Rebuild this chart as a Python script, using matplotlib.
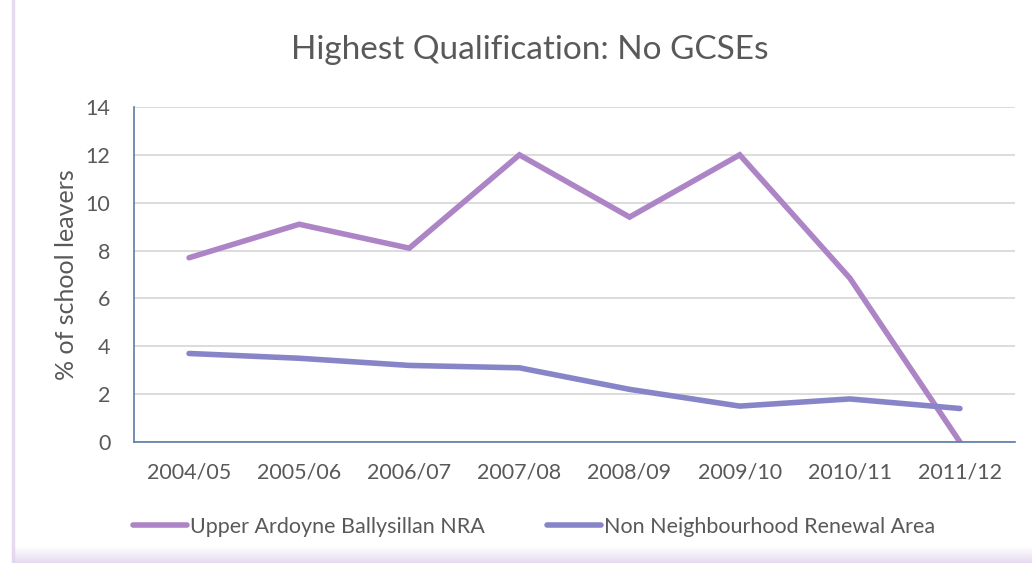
import numpy as np
import matplotlib
matplotlib.use('Agg')
import matplotlib.pyplot as plt
from matplotlib.lines import Line2D
from matplotlib.patches import Rectangle

plt.rcParams['font.family'] = ['Lato', 'DejaVu Sans']

# data
years = ['2004/05', '2005/06', '2006/07', '2007/08', '2008/09', '2009/10', '2010/11', '2011/12']
upper_ardoyne = [7.7, 9.1, 8.1, 12.0, 9.4, 12.0, 6.85, 0.0]
non_nra = [3.7, 3.5, 3.2, 3.1, 2.2, 1.5, 1.8, 1.4]

col_upper = '#AD84C6'
col_non = '#8785C8'
txt = '#595959'

fig = plt.figure(figsize=(10.32, 5.63), dpi=100)
fig.patch.set_facecolor('white')

# faint frame around the chart area (left edge and bottom shadow)
fig.patches.append(Rectangle((12 / 1032, 0), 2 / 1032, 1, transform=fig.transFigure,
                             color='#E6DAF0', zorder=0))
for i in range(16):
    a = (i + 1) / 16
    fig.patches.append(Rectangle((12 / 1032, (15 - i) / 563), 1, 1 / 563,
                                 transform=fig.transFigure, color='#E3D6EF',
                                 alpha=a * 0.9, lw=0, zorder=0))

ax = fig.add_axes([134 / 1032, 1 - 442 / 563, (1015 - 134) / 1032, (442 - 107) / 563])
x = np.arange(len(years))
ax.plot(x, upper_ardoyne, color=col_upper, lw=4, solid_capstyle='round', solid_joinstyle='miter')
ax.plot(x, non_nra, color=col_non, lw=4, solid_capstyle='round', solid_joinstyle='miter')

ax.set_xlim(-0.5, len(years) - 0.5)
ax.set_ylim(0, 14)
ax.set_yticks(range(0, 15, 2))
ax.set_xticks(x)
ax.set_xticklabels(years)
ax.grid(axis='y', color='#D9D9D9', lw=1.3)
ax.set_axisbelow(True)
for s in ['top', 'right']:
    ax.spines[s].set_visible(False)
for s in ['left', 'bottom']:
    ax.spines[s].set_color('#5B7BA8')
    ax.spines[s].set_linewidth(1.2)
ax.tick_params(length=0, labelsize=15.5, colors=txt)
ax.tick_params(axis='x', pad=15)
ax.tick_params(axis='y', pad=17)
ax.set_ylabel('% of school leavers', fontsize=18, color=txt)
ax.yaxis.set_label_coords((78 - 134) / 881, 0.5)

fig.text(530 / 1032, 1 - 50 / 563, 'Highest Qualification: No GCSEs', ha='center', va='center',
         fontsize=24, color=txt)

handles = [Line2D([], [], color=col_upper, lw=4, solid_capstyle='round'),
           Line2D([], [], color=col_non, lw=4, solid_capstyle='round')]
fig.legend(handles, ['Upper Ardoyne Ballysillan NRA', 'Non Neighbourhood Renewal Area'],
           loc='center', bbox_to_anchor=(534 / 1032, 1 - 527 / 563), ncol=2, frameon=False,
           fontsize=15.5, labelcolor=txt, handlelength=2.5, handletextpad=0.15, columnspacing=2.9)

fig.savefig('out.png', dpi=100)
